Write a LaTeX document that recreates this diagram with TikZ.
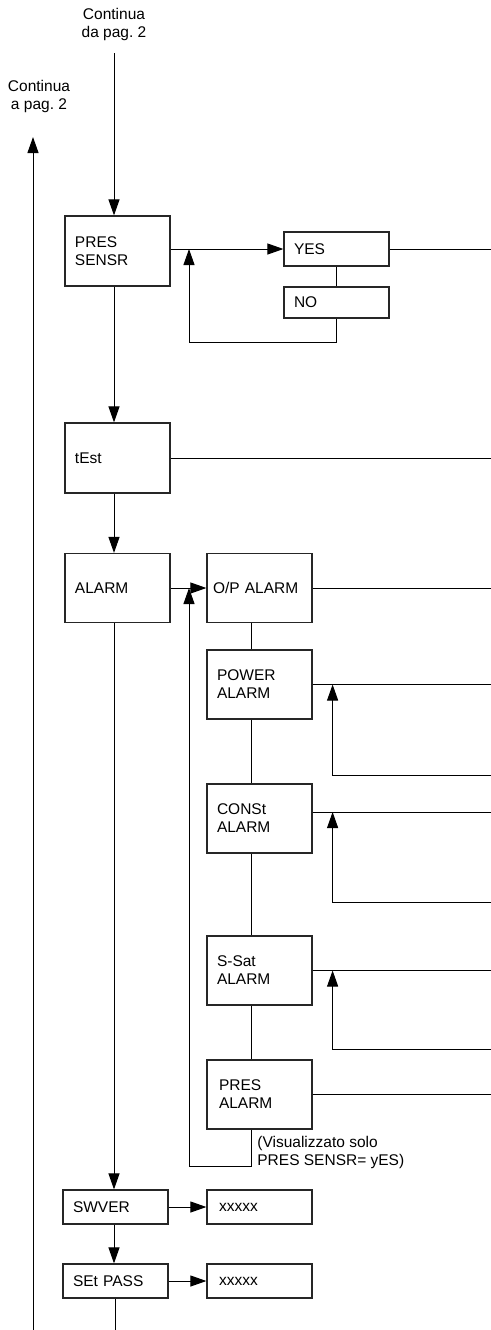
\documentclass[tikz,border=0pt]{standalone}
\usepackage{fontspec}
\setmainfont{Liberation Sans}
\usetikzlibrary{arrows.meta}
\usetikzlibrary{positioning}
\frenchspacing
\tikzset{
  menubox/.style={draw=black!85,line width=0.6pt,rectangle,inner xsep=5pt,inner ysep=0pt,
    text width=42.5pt,align=left,minimum height=35pt,font=\fontsize{7.75}{9}\selectfont},
  smallbox/.style={menubox,minimum height=17pt},
  arr/.style={-{Triangle[length=8pt,width=5.5pt]}},
  wire/.style={line width=0.5pt},
  note/.style={font=\fontsize{7.75}{9}\selectfont,align=center,inner sep=0pt}
}

\begin{document}
\begin{tikzpicture}[x=0.5pt,y=-0.5pt]
\useasboundingbox (0,0) rectangle (491,1330);
\coordinate (rightedge) at (491,0);
\coordinate (mainx) at (114,0);
\coordinate (chain) at (251,0);
\coordinate (bottom) at (0,1330);

\node[note] (fromtxt) at (114,24) {Continua\\da pag. 2};
\node[note] (totxt) at (39,96) {Continua\\a pag. 2};
\coordinate (fromtop) at (114,53);
\coordinate (backtop) at (33,137);
\coordinate (backbot) at (33,1330);

\node[menubox] (pres) at (117.5,251) {PRES\\SENSR};
\node[smallbox] (yes) at (336.5,249) {YES};
\node[smallbox,minimum height=15.5pt] (no) at (336.5,302.5) {NO};
\node[menubox] (test) at (117.5,458) {tEst};
\node[menubox,minimum height=34.5pt] (alarm) at (117.5,588) {ALARM};
\node[menubox,minimum height=34.5pt,inner xsep=3pt,text width=46.5pt] (op) at (259.5,588) {O/P ALARM};
\node[menubox,minimum height=34.5pt] (pwr) at (259.5,684.5) {POWER\\ALARM};
\node[menubox,minimum height=34.5pt] (cst) at (259.5,818.5) {CONSt\\ALARM};
\node[menubox,minimum height=34.5pt] (ssat) at (259.5,970.5) {S-Sat\\ALARM};
\node[menubox,minimum height=34.5pt,inner xsep=6pt,text width=40.5pt] (pra) at (259.5,1094.5) {PRES\\ALARM};
\node[note,anchor=west,align=left] (presnote) at (257,1152) {(Visualizzato solo\\PRES SENSR= yES)};
\node[smallbox] (swver) at (115.5,1207) {SWVER};
\node[smallbox,inner xsep=6pt,text width=40.5pt] (xa) at (259.5,1207) {xxxxx};
\node[smallbox] (setp) at (115.5,1281) {SEt PASS};
\node[smallbox,inner xsep=6pt,text width=40.5pt] (xb) at (259.5,1281) {xxxxx};

% main column
\draw[wire,arr] (backbot) -- (backtop);
\draw[wire,arr] (fromtop) -- (fromtop |- pres.north);
\draw[wire,arr] (pres.south -| mainx) -- (test.north -| mainx);
\draw[wire,arr] (test.south -| mainx) -- (alarm.north -| mainx);
\draw[wire,arr] (alarm.south -| mainx) -- (swver.north -| mainx);
\draw[wire,arr] (swver.south -| mainx) -- (setp.north -| mainx);
\draw[wire] (setp.south) -- (setp.south |- bottom);

% PRES SENSR choice
\coordinate (noloop) at (189,342);
\draw[wire,arr] (pres.east |- yes.west) -- (yes.west);
\draw[wire] (yes.south) -- (no.north);
\draw[wire,arr] (no.south) |- (noloop) -- (noloop |- yes.west);

% alarm list
\coordinate (alloop) at (189,1166);
\draw[wire,arr] (alarm.east |- op.west) -- (op.west);
\foreach \a/\b in {op/pwr,pwr/cst,cst/ssat,ssat/pra}
  \draw[wire] (\a.south -| chain) -- (\b.north -| chain);
\draw[wire,arr] (pra.south -| chain) |- (alloop) -- (alloop |- op.west);

% exits to the right
\foreach \n in {yes,test,op,pwr,ssat,pra}
  \draw[wire] (\n.east) -- (\n.east -| rightedge);
\draw[wire] ([yshift=3.25pt]cst.east) -- ([yshift=3.25pt]cst.east -| rightedge);

% returns from the right
\coordinate (pwrback) at (491,775);
\coordinate (cstback) at (491,902);
\coordinate (ssatback) at (491,1049);
\draw[wire,arr] (pwrback) -| ([xshift=10pt]pwr.east);
\draw[wire,arr] (cstback) -| ([xshift=10pt,yshift=3.25pt]cst.east);
\draw[wire,arr] (ssatback) -| ([xshift=10pt]ssat.east);

\draw[wire,arr] (swver.east) -- (xa.west);
\draw[wire,arr] (setp.east) -- (xb.west);
\end{tikzpicture}
\end{document}
